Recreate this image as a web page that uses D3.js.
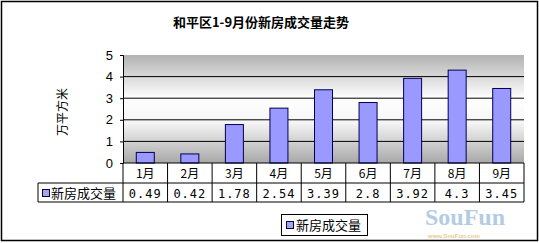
<!DOCTYPE html>
<html><head><meta charset="utf-8">
<script src="https://cdn.jsdelivr.net/npm/d3@7"></script>
<style>body{margin:0;background:#fff}svg{display:block}</style>
</head><body>
<script>
const months = ["1月","2月","3月","4月","5月","6月","7月","8月","9月"];
const values = [0.49,0.42,1.78,2.54,3.39,2.8,3.92,4.3,3.45];
const valueLabels = ["0.49","0.42","1.78","2.54","3.39","2.8","3.92","4.3","3.45"];
const yTicks = [0,1,2,3,4,5];
const seriesName = "新房成交量";
const title = "和平区1-9月份新房成交量走势";
const yLabel = "万平方米";

const W=539,H=243;
const svg=d3.select("body").append("svg").attr("width",W).attr("height",H);
svg.append("rect").attr("x",1.5).attr("y",1.5).attr("width",536).attr("height",239).attr("fill","#fff").attr("stroke","#000").attr("stroke-width",1.5);

const L=123,R=524,T=55,B=163;
const x=d3.scaleBand().domain(months).range([L,R]);
const y=d3.scaleLinear().domain([0,5]).range([B,T]);

const defs=svg.append("defs");
const g=defs.append("linearGradient").attr("id","bg").attr("x1",0).attr("y1",0).attr("x2",0).attr("y2",1);
g.append("stop").attr("offset","0%").attr("stop-color","#b2b2b2");
g.append("stop").attr("offset","40%").attr("stop-color","#ffffff");
g.append("stop").attr("offset","62%").attr("stop-color","#f6f6f6");
g.append("stop").attr("offset","100%").attr("stop-color","#a8a8a8");
svg.append("rect").attr("x",L).attr("y",T).attr("width",R-L).attr("height",B-T).attr("fill","url(#bg)");

// watermark
svg.append("text").attr("x",425).attr("y",225).attr("font-family","Liberation Serif").attr("font-weight","bold").attr("font-size",24).attr("fill","#6a9ac8").attr("opacity",0.5).text("SouFun");
svg.append("text").attr("x",428).attr("y",238).attr("font-family","Liberation Sans").attr("font-weight","bold").attr("font-size",6).attr("fill","#e8b060").attr("opacity",0.7).text("www.SouFun.com");

// gridlines
svg.append("g").selectAll("line").data(yTicks.filter(d=>d>0&&d<5)).join("line")
 .attr("x1",L).attr("x2",R).attr("y1",d=>y(d)).attr("y2",d=>y(d)).attr("stroke","#000").attr("stroke-width",1);

// y axis
const ya=svg.append("g").attr("transform",`translate(${L},0)`).call(d3.axisLeft(y).tickValues(yTicks).tickFormat(d3.format("d")).tickSize(3).tickPadding(7));
ya.select(".domain").attr("stroke","#000");
ya.selectAll("text").attr("font-family","Liberation Sans, Arial").attr("font-size",13).attr("fill","#000");

// bars
const bw=18;
svg.append("g").selectAll("rect").data(values).join("rect")
 .attr("x",(d,i)=>x(months[i])+x.bandwidth()/2-bw/2).attr("width",bw)
 .attr("y",d=>y(d)).attr("height",d=>y(0)-y(d))
 .attr("fill","#9999ff").attr("stroke","#000050").attr("stroke-width",1);

// table
const r1=B, r2=183, r3=202, tl=38;
const tab=svg.append("g").attr("stroke","#000").attr("stroke-width",1).attr("fill","none");
tab.append("line").attr("x1",L).attr("x2",R).attr("y1",r1).attr("y2",r1);
tab.append("line").attr("x1",tl).attr("x2",R).attr("y1",r2).attr("y2",r2);
tab.append("line").attr("x1",tl).attr("x2",R).attr("y1",r3).attr("y2",r3);
tab.append("line").attr("x1",tl).attr("x2",tl).attr("y1",r2).attr("y2",r3);
months.forEach(m=>{tab.append("line").attr("x1",x(m)).attr("x2",x(m)).attr("y1",r1).attr("y2",r3);});
tab.append("line").attr("x1",R).attr("x2",R).attr("y1",r1).attr("y2",r3);

svg.append("g").selectAll("text").data(months).join("text")
 .attr("x",d=>x(d)+x.bandwidth()/2).attr("y",r1+15).attr("text-anchor","middle")
 .attr("font-family","Noto Sans CJK SC").attr("font-size",12).text(d=>d);
svg.append("g").selectAll("text").data(valueLabels).join("text")
 .attr("x",(d,i)=>x(months[i])+x.bandwidth()/2).attr("y",r2+14.5).attr("text-anchor","middle")
 .attr("font-family","DejaVu Sans Mono").attr("font-size",12).attr("letter-spacing",1).text(d=>d);

svg.append("rect").attr("x",42.5).attr("y",189.5).attr("width",7).attr("height",7).attr("fill","#a8a8e0").attr("stroke","#000050");
svg.append("text").attr("x",51).attr("y",198).attr("font-family","Noto Sans CJK SC").attr("font-size",13).text(seriesName);

// bottom legend
svg.append("rect").attr("x",281.5).attr("y",214.5).attr("width",86).attr("height",21).attr("fill","none").attr("stroke","#000");
svg.append("rect").attr("x",286.5).attr("y",221.5).attr("width",7).attr("height",7).attr("fill","#a8a8e0").attr("stroke","#000050");
svg.append("text").attr("x",296).attr("y",230).attr("font-family","Noto Sans CJK SC").attr("font-size",13).text(seriesName);

// title
svg.append("text").attr("x",261).attr("y",27).attr("text-anchor","middle").attr("font-family","Noto Sans CJK SC").attr("font-weight","bold").attr("font-size",13).text(title);

// y label
svg.append("text").attr("transform","translate(67,112) rotate(-90)").attr("text-anchor","middle")
 .attr("font-family","Noto Sans CJK SC").attr("font-size",12).text(yLabel);
</script>
</body></html>
